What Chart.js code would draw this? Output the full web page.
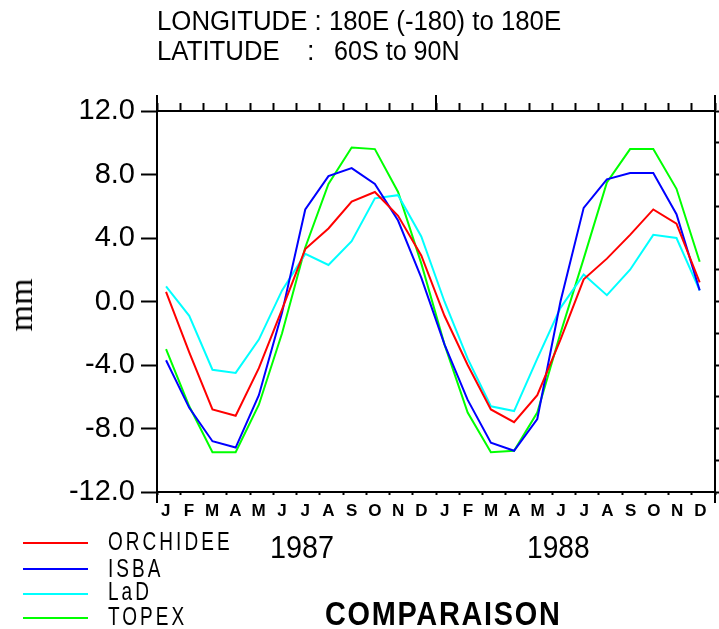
<!DOCTYPE html>
<html>
<head>
<meta charset="utf-8">
<script src="https://cdn.jsdelivr.net/npm/chart.js@4.4.1/dist/chart.umd.min.js"></script>
<style>
  html, body { margin: 0; padding: 0; background: #fff; }
  #page { position: relative; width: 719px; height: 629px; overflow: hidden; font-family: "Liberation Sans", Arial, sans-serif; color: #000; }
  #graphe { position: absolute; left: 0; top: 0; }
  .txt { position: absolute; white-space: pre; line-height: 1; transform-origin: 0 0; }
  .trait { position: absolute; left: 23px; width: 65px; height: 2px; }
</style>
</head>
<body>
<div id="page">
  <canvas id="graphe" width="719" height="629"></canvas>

  <div class="txt" style="left:157px; top:8px; font-size:27px; transform:scaleX(0.955)">LONGITUDE : 180E (-180) to 180E</div>
  <div class="txt" style="left:157px; top:38px; font-size:27px; transform:scaleX(0.955)">LATITUDE</div>
  <div class="txt" style="left:307px; top:38px; font-size:27px;">:</div>
  <div class="txt" style="left:334px; top:38px; font-size:27px; transform:scaleX(0.93)">60S to 90N</div>

  <div class="txt" style="left:21px; top:305px; font-family:'Liberation Serif', serif; font-size:34px; transform:translate(-50%,-50%) rotate(-90deg); transform-origin:50% 50%;">mm</div>

  <div class="txt" style="left:270px; top:531px; font-size:32px; transform:scaleX(0.9)">1987</div>
  <div class="txt" style="left:527px; top:531px; font-size:32px; transform:scaleX(0.88)">1988</div>

  <div class="trait" style="top:542px; background:#ff0000"></div>
  <div class="trait" style="top:568px; background:#0000ff"></div>
  <div class="trait" style="top:593px; background:#00ffff"></div>
  <div class="trait" style="top:617px; background:#00ff00"></div>
  <div class="txt" style="left:108px; top:529px; font-size:25px; letter-spacing:4px; transform:scaleX(0.76)">ORCHIDEE</div>
  <div class="txt" style="left:108px; top:556px; font-size:25px; letter-spacing:4px; transform:scaleX(0.76)">ISBA</div>
  <div class="txt" style="left:108px; top:579px; font-size:25px; letter-spacing:4px; transform:scaleX(0.76)">LaD</div>
  <div class="txt" style="left:108px; top:604px; font-size:25px; letter-spacing:4px; transform:scaleX(0.76)">TOPEX</div>

  <div class="txt" style="left:325px; top:596px; font-size:34px; font-weight:bold; letter-spacing:2px; transform:scaleX(0.85)">COMPARAISON</div>
</div>

<script>
const mois = ['J', 'F', 'M', 'A', 'M', 'J', 'J', 'A', 'S', 'O', 'N', 'D',
  'J', 'F', 'M', 'A', 'M', 'J', 'J', 'A', 'S', 'O', 'N', 'D'];

const orchidee = [0.6, -3.2, -6.8, -7.2, -4.2, -0.5, 3.3, 4.6, 6.3, 6.9, 5.4, 2.9,
  -0.9, -4.0, -6.8, -7.6, -5.9, -2.4, 1.4, 2.7, 4.2, 5.8, 4.9, 1.2];
const isba = [-3.7, -6.7, -8.8, -9.2, -5.9, -0.7, 5.8, 7.9, 8.4, 7.4, 5.1, 1.5,
  -2.7, -6.2, -8.9, -9.4, -7.4, 0.0, 5.9, 7.7, 8.1, 8.1, 5.5, 0.7];
const lad = [0.95, -0.9, -4.3, -4.5, -2.4, 0.7, 3.0, 2.3, 3.8, 6.5, 6.7, 4.1,
  0.0, -3.6, -6.6, -6.9, -3.6, -0.4, 1.7, 0.4, 2.0, 4.2, 4.0, 0.7];
const topex = [-3.0, -6.6, -9.5, -9.5, -6.5, -2.0, 3.4, 7.4, 9.7, 9.6, 6.9, 2.4,
  -2.7, -7.0, -9.5, -9.4, -7.0, -2.0, 2.7, 7.5, 9.6, 9.6, 7.1, 2.5];

const police = 'Liberation Sans';

// traits prolonges du cadre (haut et bas) et grande graduation du changement d'annee
const cadre = {
  id: 'cadre',
  afterDraw(chart) {
    const { ctx, chartArea } = chart;
    const xh = chart.scales.xHaut;
    const milieu = (xh.getPixelForTick(11) + xh.getPixelForTick(12)) / 2;
    ctx.save();
    ctx.strokeStyle = '#000';
    ctx.lineWidth = 2;
    ctx.beginPath();
    ctx.moveTo(chartArea.left, 95);
    ctx.lineTo(chartArea.left, 503);
    ctx.moveTo(chartArea.right, 95);
    ctx.lineTo(chartArea.right, 503);
    ctx.moveTo(milieu, 95);
    ctx.lineTo(milieu, chartArea.top);
    ctx.stroke();
    ctx.restore();
  },
};

// les points sont places sur un axe lineaire cache (mois 0 a 23)
const serie = (label, couleur, valeurs) => ({
  label,
  data: valeurs.map((v, i) => ({ x: i, y: v })),
  xAxisID: 'xPoints',
  borderColor: couleur,
  backgroundColor: couleur,
  borderWidth: 2,
  pointRadius: 0,
  tension: 0,
  fill: false,
});

const axeX = (position, longueur, etiquettes) => ({
  type: 'category',
  position,
  offset: true,
  grid: {
    offset: true,
    drawOnChartArea: false,
    tickLength: longueur,
    tickWidth: 2,
    tickColor: '#000',
  },
  border: { color: '#000', width: 2 },
  ticks: {
    display: etiquettes,
    autoSkip: false,
    maxRotation: 0,
    color: '#000',
    padding: 6,
    labelOffset: -3,
    font: { family: police, size: 17, weight: 'bold' },
  },
});

const axeY = (position, longueur, etiquettes) => ({
  type: 'linear',
  position,
  min: -12,
  max: 12,
  grid: {
    drawOnChartArea: false,
    tickLength: longueur,
    tickWidth: 2,
    tickColor: '#000',
  },
  border: { color: '#000', width: 2 },
  ticks: {
    display: etiquettes,
    stepSize: 2,
    color: '#000',
    padding: 6,
    font: { family: police, size: 29 },
    callback: (v) => (v % 4 === 0 ? v.toFixed(1) : ''),
  },
});

const scales = {
  x: { ...axeX('bottom', 3, true), afterFit: (s) => { s.height = 137; } },
  xHaut: { ...axeX('top', 8, false), afterFit: (s) => { s.height = 111; } },
  xPoints: {
    type: 'linear',
    display: false,
    min: -0.39,
    max: 23.66,
  },
  y: { ...axeY('left', 16, true), afterFit: (s) => { s.width = 157; } },
  yDroite: { ...axeY('right', 4, false), afterFit: (s) => { s.width = 4; } },
};

/* eslint-disable no-new */
new Chart(document.getElementById('graphe'), {
  type: 'line',
  data: {
    labels: mois,
    datasets: [
      serie('ORCHIDEE', '#ff0000', orchidee),
      serie('ISBA', '#0000ff', isba),
      serie('LaD', '#00ffff', lad),
      serie('TOPEX', '#00ff00', topex),
    ],
  },
  options: {
    responsive: false,
    animation: false,
    devicePixelRatio: 1,
    layout: { padding: 0 },
    plugins: {
      legend: { display: false },
      title: { display: false },
      tooltip: { enabled: false },
    },
    scales,
  },
  plugins: [cadre],
});
/* eslint-enable no-new */
</script>
</body>
</html>
